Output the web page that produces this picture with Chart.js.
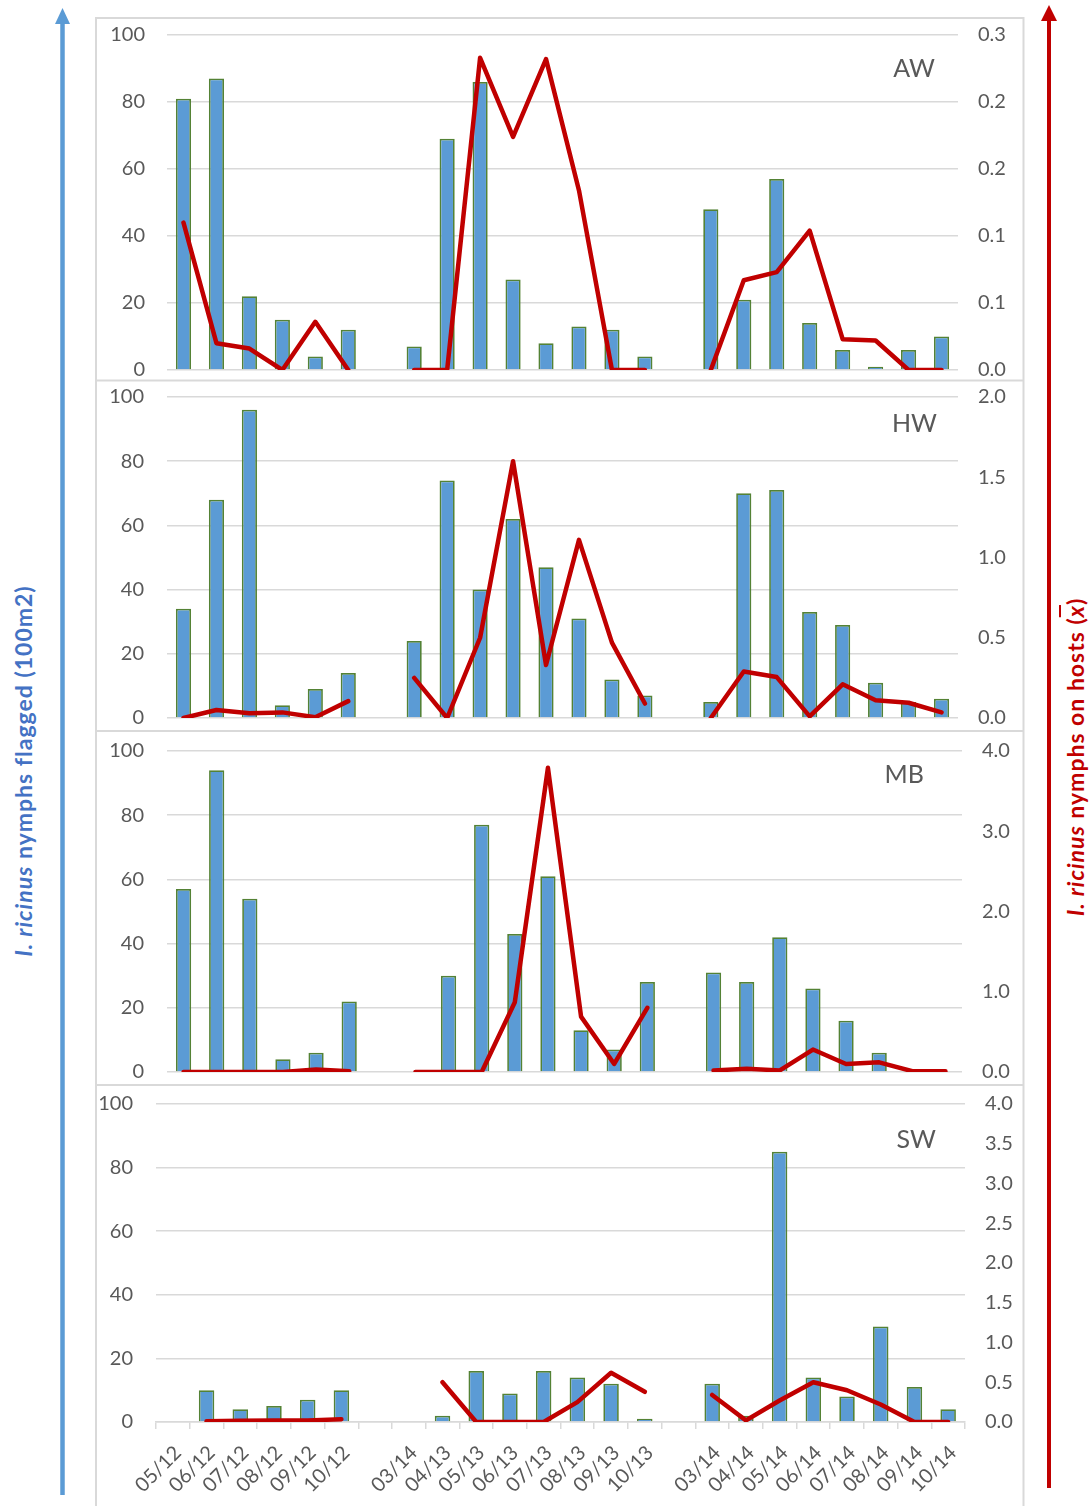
<!DOCTYPE html>
<html>
<head>
<meta charset="utf-8">
<script src="https://cdn.jsdelivr.net/npm/chart.js@4.4.1/dist/chart.umd.min.js"></script>
<style>
  html, body { margin: 0; padding: 0; background: #ffffff; }
  #stage { position: relative; width: 1090px; height: 1506px; overflow: hidden; font-family: Lato, "Open Sans", sans-serif; }
  #stage canvas { position: absolute; left: 97px; }
  .ytitle { position: absolute; white-space: nowrap; font-weight: bold; letter-spacing: 1px; transform: translate(-50%, -50%) rotate(-90deg); }
  .ytitle i { font-style: italic; }
</style>
</head>
<body>
<div id="stage">
  <svg width="1090" height="1506" style="position:absolute;left:0;top:0">
    <!-- panel frames -->
    <g stroke="#d9d9d9" stroke-width="2" fill="none">
      <rect x="96" y="18" width="927.5" height="1500"/>
      <line x1="96" y1="380.5" x2="1023.5" y2="380.5"/>
      <line x1="96" y1="731" x2="1023.5" y2="731"/>
      <line x1="96" y1="1085" x2="1023.5" y2="1085"/>
    </g>
    <!-- axis arrows -->
    <line x1="62.5" y1="22" x2="62.5" y2="1495" stroke="#5b9bd5" stroke-width="4.5"/>
    <polygon points="55,24 70,24 62.5,8" fill="#5b9bd5"/>
    <line x1="1049" y1="20" x2="1049" y2="1488" stroke="#c00000" stroke-width="4"/>
    <polygon points="1041,21 1057,21 1049,5" fill="#c00000"/>
  </svg>

  <canvas id="c-aw"></canvas>
  <canvas id="c-hw"></canvas>
  <canvas id="c-mb"></canvas>
  <canvas id="c-sw"></canvas>

  <div class="ytitle" style="left:23px;top:771px;color:#4472c4;font-size:23px"><i>I. ricinus</i> nymphs flagged (100m2)</div>
  <div class="ytitle" style="left:1075px;top:757px;color:#c00000;font-size:23px"><i>I. ricinus</i> nymphs on hosts (<span style="font-style:italic;text-decoration:overline">x</span>)</div>
</div>

<script>
// Sampling months; empty strings separate the three seasons
const months = ['05/12','06/12','07/12','08/12','09/12','10/12','',
                '03/14','04/13','05/13','06/13','07/13','08/13','09/13','10/13','',
                '03/14','04/14','05/14','06/14','07/14','08/14','09/14','10/14'];

// Nymphs flagged per 100 m2 (bars, left axis)
const awFlagged = [81, 87, 22, 15, 4, 12, null, 7, 69, 86, 27, 8, 13, 12, 4, null, 48, 21, 57, 14, 6, 1, 6, 10];
const hwFlagged = [34, 68, 96, 4, 9, 14, null, 24, 74, 40, 62, 47, 31, 12, 7, null, 5, 70, 71, 33, 29, 11, 5, 6];
const mbFlagged = [57, 94, 54, 4, 6, 22, null, null, 30, 77, 43, 61, 13, 7, 28, null, 31, 28, 42, 26, 16, 6, null, null];
const swFlagged = [null, 10, 4, 5, 7, 10, null, null, 2, 16, 9, 16, 14, 12, 1, null, 12, 2, 85, 14, 8, 30, 11, 4];

// Mean nymphs per host (line, right axis)
const awHosts = [0.110, 0.020, 0.016, 0, 0.036, 0, null, 0, 0, 0.233, 0.174, 0.232, 0.134, 0, 0, null, 0, 0.067, 0.073, 0.104, 0.023, 0.022, 0, 0];
const hwHosts = [0.0, 0.05, 0.03, 0.035, 0.005, 0.105, null, 0.25, 0, 0.5, 1.6, 0.33, 1.11, 0.47, 0.09, null, 0, 0.29, 0.255, 0.01, 0.21, 0.11, 0.095, 0.035];
const mbHosts = [0, 0, 0, 0, 0.03, 0.01, null, 0, 0, 0, 0.87, 3.79, 0.69, 0.1, 0.8, null, 0.02, 0.04, 0.02, 0.28, 0.1, 0.12, 0.01, 0.01];
const swHosts = [null, 0.01, 0.015, 0.02, 0.02, 0.035, null, null, 0.5, 0, 0, 0, 0.25, 0.62, 0.38, null, 0.34, 0.02, 0.27, 0.5, 0.4, 0.22, 0, 0];

// Right-axis ranges per site
const hostMax  = { AW: 0.25, HW: 2.0, MB: 4.0, SW: 4.0 };
const hostStep = { AW: 0.05, HW: 0.5, MB: 1.0, SW: 0.5 };

const FONT = 'Lato, "Open Sans", sans-serif';
const TICK = '#595959';
const GRID = '#d9d9d9';
const CANVAS_LEFT = 97, CANVAS_RIGHT = 1023, CANVAS_W = CANVAS_RIGHT - CANVAS_LEFT;
const PAD = 40;      // vertical room kept around each plot area for tick labels
const X_AXIS_H = 84; // height of the month axis under the last panel

// Site name drawn in the upper right of each plot area
const siteLabel = {
  id: 'siteLabel',
  afterDatasetsDraw(chart, args, opts) {
    const { ctx, chartArea } = chart;
    ctx.save();
    ctx.font = '25px ' + FONT;
    ctx.fillStyle = TICK;
    ctx.textAlign = 'right';
    ctx.textBaseline = 'alphabetic';
    ctx.fillText(opts.text, chartArea.right - opts.dx, chartArea.top + opts.dy);
    ctx.restore();
  }
};

function fmtHost(site) {
  return v => {
    if (site === 'AW') return (Math.round(v * 10 + 1e-6) / 10).toFixed(1);
    return Number(v).toFixed(1);
  };
}

// g: plot-area edges in page pixels plus label offsets
function makePanel(id, site, flagged, hosts, g) {
  const showX = !!g.xAxis;
  const canvas = document.getElementById(id);
  const areaH = g.areaBottom - g.areaTop;
  canvas.width = CANVAS_W;
  canvas.height = PAD + areaH + (showX ? X_AXIS_H : PAD);
  canvas.style.top = (g.areaTop - PAD) + 'px';

  const chart = new Chart(canvas, {
    data: {
      labels: months,
      datasets: [
        {
          type: 'line', label: 'hosts', data: hosts, yAxisID: 'yR', order: 0,
          borderColor: '#c00000', borderWidth: 4.5, pointRadius: 0, tension: 0,
          borderJoinStyle: 'round', borderCapStyle: 'round', spanGaps: false
        },
        {
          type: 'bar', label: 'flagged', data: flagged, yAxisID: 'yL', order: 1,
          backgroundColor: '#5b9bd5', borderColor: '#548235', borderWidth: 1.75,
          barPercentage: 0.46, categoryPercentage: 1.0
        }
      ]
    },
    options: {
      responsive: false,
      animation: false,
      devicePixelRatio: 1,
      layout: { padding: { top: PAD, bottom: showX ? 0 : PAD, left: 0, right: 0 } },
      plugins: {
        legend: { display: false },
        tooltip: { enabled: false },
        siteLabel: { text: site, dx: g.labelDx, dy: g.labelDy }
      },
      scales: {
        x: {
          display: showX,
          offset: true,
          grid: { display: showX, drawOnChartArea: false, drawTicks: true, tickLength: 7, color: GRID, lineWidth: 1.5, offset: true },
          border: { display: showX, color: GRID, width: 1.5 },
          ticks: { color: TICK, font: { family: FONT, size: 20 }, minRotation: 45, maxRotation: 45, autoSkip: false, padding: 12, labelOffset: 5 },
          afterFit: s => { if (showX) s.height = X_AXIS_H; }
        },
        yL: {
          position: 'left', min: 0, max: 100,
          ticks: { stepSize: 20, color: TICK, font: { family: FONT, size: 20 }, padding: g.leftPad },
          grid: { color: GRID, lineWidth: 1.5, drawTicks: false },
          border: { display: false },
          afterFit: s => { s.width = g.areaLeft - CANVAS_LEFT; }
        },
        yR: {
          position: 'right', min: 0, max: hostMax[site],
          ticks: { stepSize: hostStep[site], color: TICK, font: { family: FONT, size: 20 }, padding: 20, callback: fmtHost(site) },
          grid: { drawOnChartArea: false, drawTicks: false },
          border: { display: false },
          afterFit: s => { s.width = CANVAS_RIGHT - g.areaRight; }
        }
      }
    },
    plugins: [siteLabel]
  });

  // keep the plot area exactly where it belongs on the page
  const shift = g.areaTop - (parseFloat(canvas.style.top) + chart.chartArea.top);
  if (Math.abs(shift) > 0.5) canvas.style.top = (parseFloat(canvas.style.top) + shift) + 'px';
}

makePanel('c-aw', 'AW', awFlagged, awHosts, { areaTop: 35, areaBottom: 370, areaLeft: 167, areaRight: 958, leftPad: 22, labelDx: 23, labelDy: 42 });
makePanel('c-hw', 'HW', hwFlagged, hwHosts, { areaTop: 397, areaBottom: 718, areaLeft: 167, areaRight: 958, leftPad: 23, labelDx: 21, labelDy: 35 });
makePanel('c-mb', 'MB', mbFlagged, mbHosts, { areaTop: 751, areaBottom: 1072, areaLeft: 167, areaRight: 962, leftPad: 23, labelDx: 38, labelDy: 32 });
makePanel('c-sw', 'SW', swFlagged, swHosts, { areaTop: 1104, areaBottom: 1422, areaLeft: 156, areaRight: 965, leftPad: 23, labelDx: 29, labelDy: 44, xAxis: true });
</script>
</body>
</html>
